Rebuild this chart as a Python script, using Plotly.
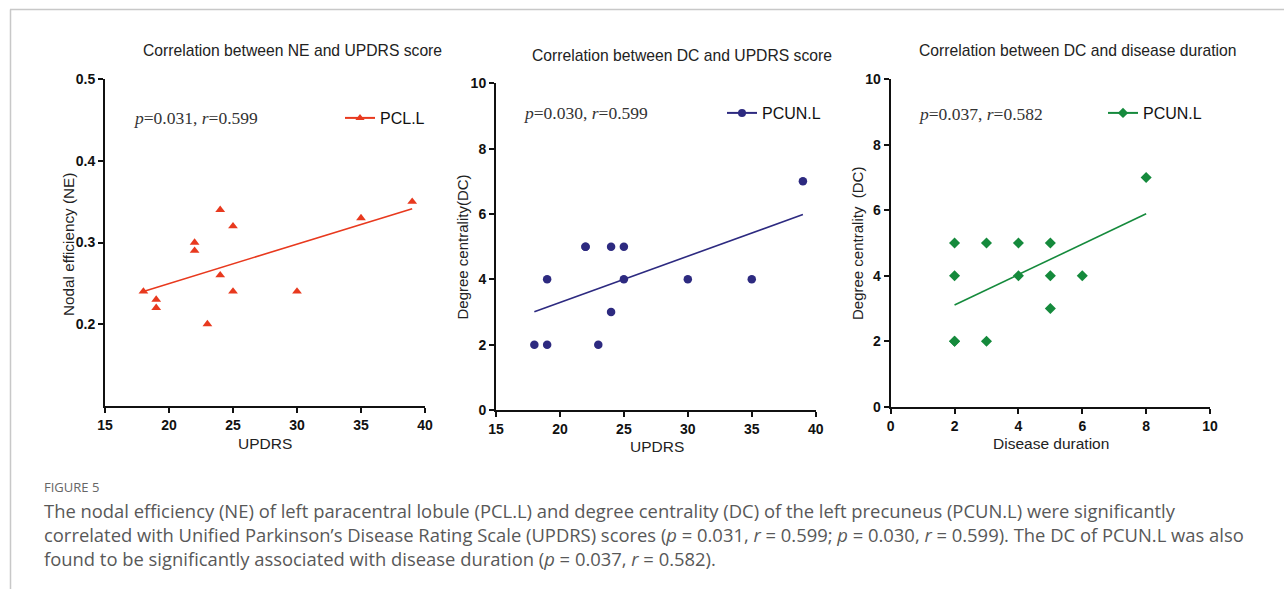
import numpy as np
import plotly.graph_objects as go

W, H = 1284, 589

# ---- data ----
updrs = [18, 19, 19, 22, 22, 23, 24, 24, 25, 25, 30, 35, 39]
ne_pcl = [0.24, 0.23, 0.22, 0.30, 0.29, 0.20, 0.34, 0.26, 0.32, 0.24, 0.24, 0.33, 0.35]
dc_pcun_updrs = [2, 2, 4, 5, 5, 2, 5, 3, 5, 4, 4, 4, 7]
duration = [2, 2, 2, 2, 3, 3, 4, 4, 5, 5, 5, 6, 8]
dc_pcun_dur = [5, 4, 2, 2, 5, 2, 5, 4, 5, 4, 3, 4, 7]

titles = ["Correlation between NE and UPDRS score",
          "Correlation between DC and UPDRS score",
          "Correlation between DC and disease duration"]
stats = ["<i>p</i>=0.031, <i>r</i>=0.599",
         "<i>p</i>=0.030, <i>r</i>=0.599",
         "<i>p</i>=0.037, <i>r</i>=0.582"]
names = ["PCL.L", "PCUN.L", "PCUN.L"]
xtitles = ["UPDRS", "UPDRS", "Disease duration"]
ytitles = ["Nodal efficiency (NE)", "Degree centrality(DC)", "Degree centrality  (DC)"]
colors = ["#e8391e", "#2d2a80", "#158a3c"]
symbols = ["triangle-up", "circle", "diamond"]

xticks = [[15, 20, 25, 30, 35, 40], [15, 20, 25, 30, 35, 40], [0, 2, 4, 6, 8, 10]]
yticks = [[0.2, 0.3, 0.4, 0.5], [0, 2, 4, 6, 8, 10], [0, 2, 4, 6, 8, 10]]
yticklabels = [["0.2", "0.3", "0.4", "0.5"], ["0", "2", "4", "6", "8", "10"], ["0", "2", "4", "6", "8", "10"]]
xranges = [[15, 40], [15, 40], [0, 10]]
yranges = [[0.1, 0.5], [0, 10], [0, 10]]

# target pixel layout (left, right, top, bottom) of each plot area
boxes = [(105, 425, 79.3, 405.7), (496, 815.7, 83.3, 410), (890.7, 1210, 79.3, 406.7)]
title_pos = [(292, 51), (682, 55), (1077, 51)]
stat_pos = [(131, 118), (521, 113), (916, 114)]
legend_pos = [(340, 118), (722, 113), (1103, 113)]
ytitle_pos = [(68, 245, 15.3), (462, 247.5, 15), (857, 243, 15)]
xtitle_pos = [(265, 443), (656.7, 446.7), (1050.8, 443)]

xs = [updrs, updrs, duration]
ys = [ne_pcl, dc_pcun_updrs, dc_pcun_dur]

fig = go.Figure()
FONT = "Liberation Sans, Arial, sans-serif"

# drawing area as observed in the rendered page
OX, OY, WE, HE = 8, 8, 1268, 573

def px(x):
    return (x - OX) / WE

def py(y):
    return 1 - (y - OY) / HE

annotations = []
for i in range(3):
    ax = "" if i == 0 else str(i + 1)
    xa, ya = "x" + ax, "y" + ax
    x = np.array(xs[i], dtype=float)
    y = np.array(ys[i], dtype=float)
    slope, intercept = np.polyfit(x, y, 1)
    xl = np.array([x.min(), x.max()])
    leg = "legend" if i == 0 else "legend" + str(i + 1)
    fig.add_trace(go.Scatter(x=xl, y=slope * xl + intercept, mode="lines",
                             line=dict(color=colors[i], width=1.6),
                             showlegend=False, xaxis=xa, yaxis=ya, hoverinfo="skip"))
    fig.add_trace(go.Scatter(x=x, y=y, mode="markers",
                             marker=dict(symbol=symbols[i], color=colors[i], size=8.5),
                             showlegend=False, xaxis=xa, yaxis=ya))
    # legend entry (line + marker)
    fig.add_trace(go.Scatter(x=[None], y=[None], mode="lines+markers", name=names[i],
                             line=dict(color=colors[i], width=2),
                             marker=dict(symbol=symbols[i], color=colors[i], size=8),
                             showlegend=True, legend=leg, xaxis=xa, yaxis=ya))
    l, r, t, b = boxes[i]
    axis_common = dict(showgrid=False, zeroline=False, showline=True, linecolor="#111",
                       linewidth=2, ticks="outside", ticklen=5, tickwidth=2, tickcolor="#111",
                       tickfont=dict(family=FONT, size=14, color="#111", weight="bold"))
    fig.update_layout(**{
        ("xaxis" + ax): dict(domain=[px(l), px(r)], anchor=ya, range=xranges[i],
                             tickvals=xticks[i], **axis_common),
        ("yaxis" + ax): dict(domain=[py(b), py(t)], anchor=xa, range=yranges[i],
                             tickvals=yticks[i], ticktext=yticklabels[i], **axis_common),
        leg: dict(x=px(legend_pos[i][0]), y=py(legend_pos[i][1]), xanchor="left", yanchor="middle",
                  bgcolor="rgba(0,0,0,0)", font=dict(family=FONT, size=16, color="#111"),
                  itemclick=False, itemdoubleclick=False),
    })
    annotations.append(dict(x=px(title_pos[i][0]), y=py(title_pos[i][1]), xref="paper", yref="paper",
                            text=titles[i], showarrow=False, xanchor="center", yanchor="middle",
                            font=dict(family=FONT, size=15.7, color="#222")))
    annotations.append(dict(x=px(stat_pos[i][0]), y=py(stat_pos[i][1]), xref="paper", yref="paper",
                            text=stats[i], showarrow=False, xanchor="left", yanchor="middle",
                            font=dict(family="Liberation Serif, Times New Roman, serif", size=17.5, color="#333")))
    annotations.append(dict(x=px(xtitle_pos[i][0]), y=py(xtitle_pos[i][1]), xref="paper", yref="paper",
                            text=xtitles[i], showarrow=False, xanchor="center", yanchor="middle",
                            font=dict(family=FONT, size=15.5, color="#222")))
    annotations.append(dict(x=px(ytitle_pos[i][0]), y=py(ytitle_pos[i][1]), xref="paper", yref="paper",
                            text=ytitles[i], showarrow=False, xanchor="center", yanchor="middle",
                            textangle=-90, font=dict(family=FONT, size=ytitle_pos[i][2], color="#222")))

CAP_FONT = "Open Sans, Noto Sans, sans-serif"
annotations.append(dict(x=px(42), y=py(487), xref="paper", yref="paper", text="FIGURE 5",
                        showarrow=False, xanchor="left", yanchor="middle",
                        font=dict(family=CAP_FONT, size=13, color="#666")))
caption_lines = [
    "The nodal efficiency (NE) of left paracentral lobule (PCL.L) and degree centrality (DC) of the left precuneus (PCUN.L) were significantly",
    "correlated with Unified Parkinson\u2019s Disease Rating Scale (UPDRS) scores (<i>p</i> = 0.031, <i>r</i> = 0.599; <i>p</i> = 0.030, <i>r</i> = 0.599). The DC of PCUN.L was also",
    "found to be significantly associated with disease duration (<i>p</i> = 0.037, <i>r</i> = 0.582).",
]
for k, line in enumerate(caption_lines):
    annotations.append(dict(x=px(42), y=py(511 + 23.7 * k), xref="paper", yref="paper", text=line,
                            showarrow=False, xanchor="left", yanchor="middle",
                            font=dict(family=CAP_FONT, size=18.4, color="#585858")))

shapes = [
    dict(type="line", xref="paper", yref="paper", x0=px(10), x1=1.02, y0=py(9.5), y1=py(9.5),
         line=dict(color="#c8c8c8", width=1.5)),
    dict(type="line", xref="paper", yref="paper", x0=px(10.5), x1=px(10.5), y0=py(9.5), y1=-0.05,
         line=dict(color="#c8c8c8", width=1.5)),
]

fig.update_layout(width=W, height=H, margin=dict(l=0, r=0, t=0, b=0),
                  paper_bgcolor="white", plot_bgcolor="white",
                  annotations=annotations, shapes=shapes, hovermode=False)

fig.write_html("out.html", config={"displayModeBar": False},
               post_script="document.body.style.margin='0';document.body.style.padding='0';"
                           "document.body.style.overflow='hidden';"
                           "document.documentElement.style.overflow='hidden';")
